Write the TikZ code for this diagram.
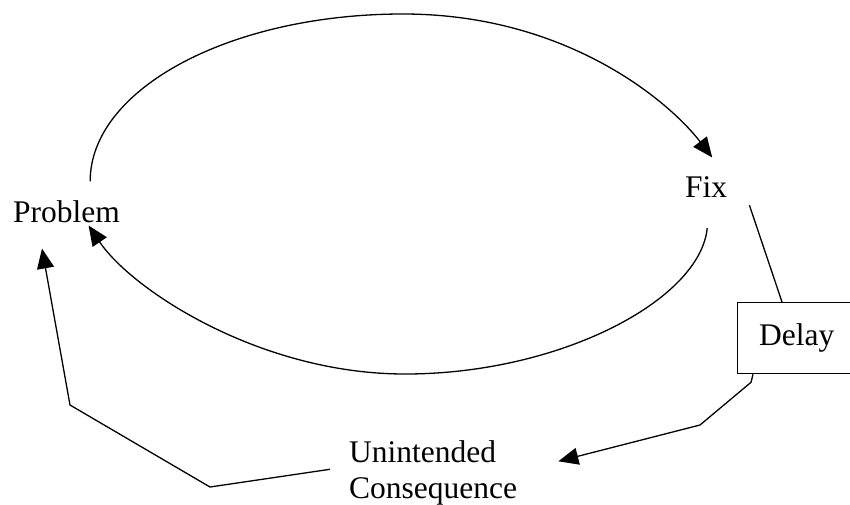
\documentclass[tikz,border=0pt]{standalone}
\usepackage{fontspec}
\setmainfont{Liberation Serif}
\usetikzlibrary{arrows.meta}
\begin{document}
\begin{tikzpicture}[x=1pt,y=-1pt,
  lbl/.style={inner sep=0pt, font=\fontsize{31.5}{36}\selectfont},
  conn/.style={line width=1.3pt, line join=miter},
  tip/.style={-{Triangle[length=20pt,width=17pt]}}]
\clip (0,0) rectangle (850,504);
\node[lbl, anchor=base west] (prob) at (13,222) {Problem};
\node[lbl, anchor=base west] (fix) at (685,197) {Fix};
\node[lbl, draw, line width=1.3pt, minimum width=118pt, minimum height=71pt, anchor=north west] (delay) at (737,302) {Delay};
\node[lbl, anchor=north west, align=left] (unint) at (349,440.5) {Unintended\\Consequence};
% reinforcing loop
\draw[conn, tip] ([shift={(23.6,-18.5)}]prob.north) .. controls (90,89) and (230,14) .. (403,14)
  .. controls (565,14) and (668,100) .. ([shift={(6,-18.5)}]fix.north);
\draw[conn, tip] ([shift={(1,31)}]fix.south) .. controls (700,300) and (560,374) .. (405,374)
  .. controls (260,374) and (132,290) .. ([shift={(22,3)}]prob.south);
% side effect
\draw[conn] ([shift={(22,8)}]fix.south east) -- ([xshift=45]delay.north west);
\draw[conn, tip] ([xshift=16]delay.south west) -- ++(-2,8) -- (700,425) -- ([shift={(41,-11.7)}]unint.east);
\draw[conn, tip] ([shift={(-19,-3.7)}]unint.west) -- (210,487) -- (70,405) -- ([shift={(29,26)}]prob.south west);
\end{tikzpicture}
\end{document}
